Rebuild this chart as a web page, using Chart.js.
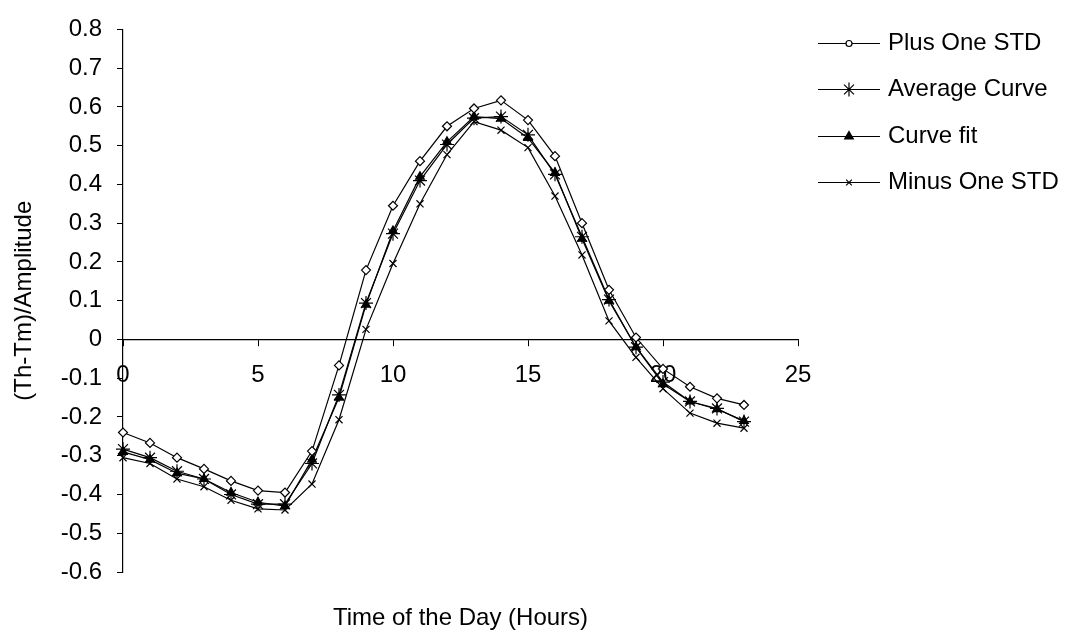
<!DOCTYPE html>
<html>
<head>
<meta charset="utf-8">
<script src="https://cdn.jsdelivr.net/npm/chart.js@4.4.1/dist/chart.umd.min.js"></script>
<style>
    html, body { margin: 0; padding: 0; background: #fff; }
    #wrap { width: 1077px; height: 636px; }
</style>
</head>
<body>
<div id="wrap"><canvas id="chart" width="1077" height="636"></canvas></div>
<script>
// hours of the day (x values)
const hours = [0, 1, 2, 3, 4, 5, 6, 7, 8, 9, 10, 11, 12, 13, 14, 15, 16, 17, 18, 19, 20, 21, 22, 23];

// series
const plusStd = [-0.24, -0.267, -0.305, -0.334, -0.365, -0.39, -0.395, -0.288, -0.067, 0.179, 0.345, 0.46, 0.55, 0.596, 0.617, 0.566, 0.473, 0.30, 0.128, 0.005, -0.076, -0.122, -0.152, -0.169];
const avgCurve = [-0.283, -0.305, -0.34, -0.36, -0.40, -0.425, -0.425, -0.32, -0.143, 0.094, 0.273, 0.41, 0.503, 0.571, 0.575, 0.528, 0.426, 0.265, 0.103, -0.02, -0.11, -0.16, -0.178, -0.212];
const curveFit = [-0.29, -0.31, -0.345, -0.36, -0.395, -0.42, -0.43, -0.31, -0.15, 0.09, 0.28, 0.42, 0.51, 0.575, 0.57, 0.52, 0.43, 0.26, 0.10, -0.02, -0.115, -0.16, -0.18, -0.21];
const minusStd = [-0.305, -0.32, -0.36, -0.38, -0.415, -0.437, -0.44, -0.373, -0.207, 0.026, 0.196, 0.35, 0.477, 0.562, 0.54, 0.495, 0.37, 0.218, 0.048, -0.046, -0.127, -0.19, -0.216, -0.229];

const seriesNames = ['Plus One STD', 'Average Curve', 'Curve fit', 'Minus One STD'];

const FONT = 'Liberation Sans, Arial, sans-serif';

function toPoints(values) {
    return values.map((v, i) => ({ x: hours[i], y: v }));
}

// marker look per series
const markers = [
    { pointStyle: 'rectRot', radius: 4.5, fill: '#fff' },
    { pointStyle: 'star', radius: 7, fill: '#000' },
    { pointStyle: 'triangle', radius: 5, fill: '#000' },
    { pointStyle: 'crossRot', radius: 5, fill: '#000' }
];

const seriesValues = [plusStd, avgCurve, curveFit, minusStd];

const datasets = seriesValues.map((vals, i) => ({
    label: seriesNames[i],
    data: toPoints(vals),
    borderColor: '#000',
    borderWidth: 1.2,
    backgroundColor: markers[i].fill,
    pointStyle: markers[i].pointStyle,
    pointRadius: markers[i].radius,
    pointBorderColor: '#000',
    pointBackgroundColor: markers[i].fill,
    pointBorderWidth: 1.2,
    tension: 0,
    clip: false
}));

// legend + x axis title drawn by hand, Excel style
const extras = {
    id: 'extras',
    afterDraw(chart) {
        const ctx = chart.ctx;
        const area = chart.chartArea;
        ctx.save();
        ctx.font = '24px ' + FONT;
        ctx.fillStyle = '#000';
        ctx.textBaseline = 'middle';

        // x axis title
        ctx.textAlign = 'center';
        ctx.fillText('Time of the Day (Hours)', (area.left + area.right) / 2, 618);

        // legend
        ctx.textAlign = 'left';
        const rowY = [43, 89, 136, 182];
        const legendSize = [3, 7, 5, 4];
        seriesNames.forEach((name, i) => {
            const y = rowY[i];
            ctx.strokeStyle = '#000';
            ctx.lineWidth = 1.2;
            ctx.beginPath();
            ctx.moveTo(818, y + 0.5);
            ctx.lineTo(880, y + 0.5);
            ctx.stroke();
            ctx.fillStyle = markers[i].fill;
            Chart.helpers.drawPoint(ctx, {
                pointStyle: i === 0 ? 'circle' : markers[i].pointStyle,
                radius: legendSize[i],
                rotation: 0,
                borderWidth: 1.2
            }, 849, y + 0.5);
            ctx.fillStyle = '#000';
            ctx.fillText(name, 888, y);
        });
        ctx.restore();
    }
};

document.addEventListener('DOMContentLoaded', () => {
    const ctx = document.getElementById('chart').getContext('2d');

    new Chart(ctx, {
        type: 'line',
        data: { datasets },
        options: {
            responsive: false,
            animation: false,
            layout: {
                padding: { left: 0, top: 23, right: 279, bottom: 64 }
            },
            plugins: {
                legend: { display: false },
                tooltip: { enabled: false }
            },
            scales: {
                x: {
                    type: 'linear',
                    position: { y: 0 },
                    min: 0,
                    max: 25,
                    ticks: {
                        stepSize: 5,
                        color: '#000',
                        padding: 16,
                        font: { family: FONT, size: 24 }
                    },
                    grid: {
                        drawOnChartArea: false,
                        tickLength: 6,
                        tickColor: '#000'
                    },
                    border: { color: '#000', width: 1.2 }
                },
                y: {
                    min: -0.6,
                    max: 0.8,
                    afterFit: (scale) => { scale.width = 123; },
                    ticks: {
                        stepSize: 0.1,
                        color: '#000',
                        padding: 15,
                        font: { family: FONT, size: 24 },
                        callback: (v) => String(Number(v.toFixed(1)))
                    },
                    grid: {
                        drawOnChartArea: false,
                        tickLength: 6,
                        tickColor: '#000'
                    },
                    border: { color: '#000', width: 1.2 },
                    title: {
                        display: true,
                        text: '(Th-Tm)/Amplitude',
                        color: '#000',
                        font: { family: FONT, size: 24 },
                        padding: { top: 10, bottom: 0 }
                    }
                }
            }
        },
        plugins: [extras]
    });
});
</script>
</body>
</html>
